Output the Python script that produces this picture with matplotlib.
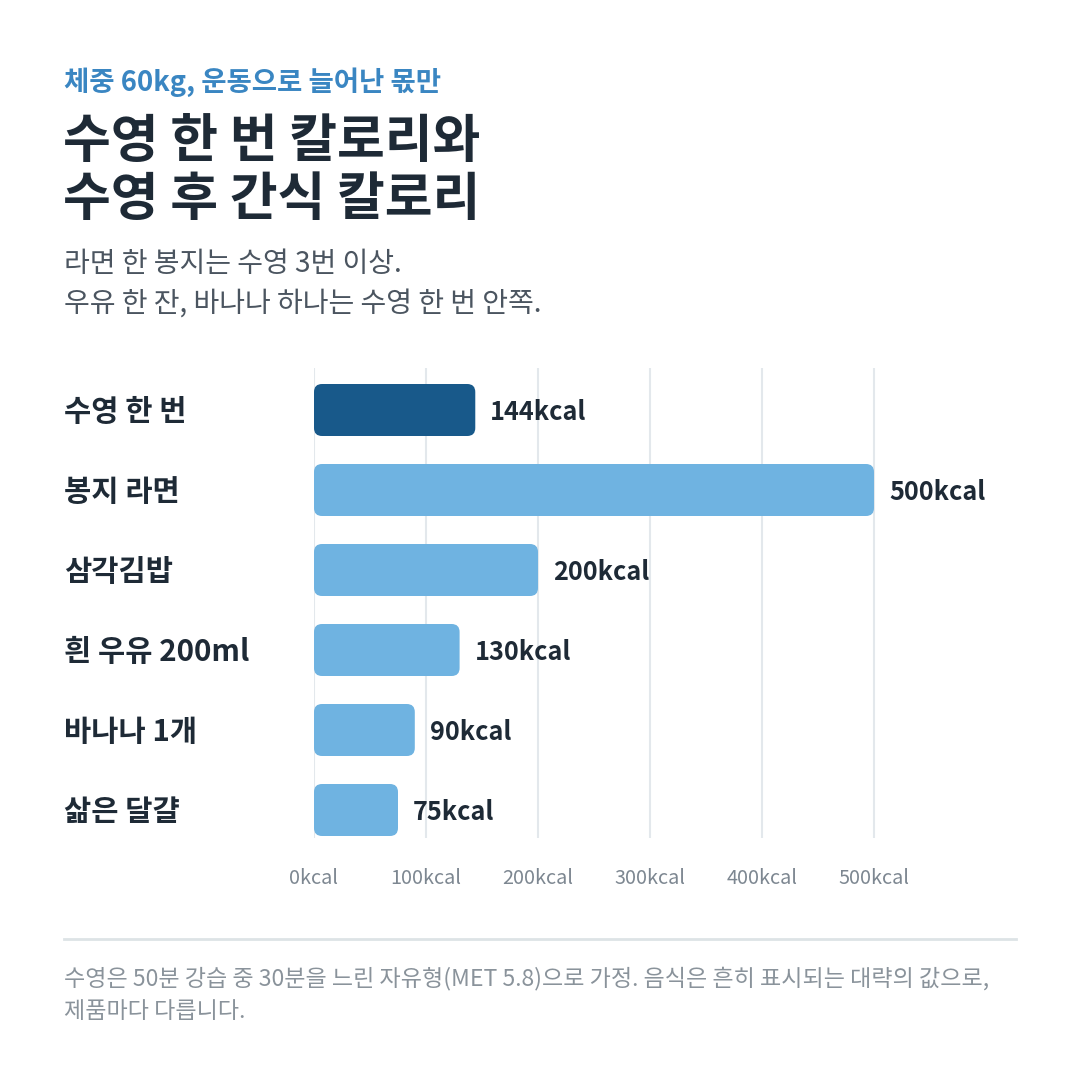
import matplotlib
matplotlib.use("Agg")
import matplotlib.pyplot as plt
from matplotlib.patches import FancyBboxPatch

plt.rcParams['font.family'] = ['Noto Sans CJK KR', 'DejaVu Sans']

# data
categories = ["수영 한 번", "봉지 라면", "삼각김밥", "흰 우유 200ml", "바나나 1개", "삶은 달걀"]
kcal = [144, 500, 200, 130, 90, 75]
ticks = [0, 100, 200, 300, 400, 500]
tick_labels = [f"{t}kcal" for t in ticks]

kicker = "체중 60kg, 운동으로 늘어난 몫만"
title_lines = ["수영 한 번 칼로리와", "수영 후 간식 칼로리"]
subtitle_lines = ["라면 한 봉지는 수영 3번 이상.", "우유 한 잔, 바나나 하나는 수영 한 번 안쪽."]
footer_lines = ["수영은 50분 강습 중 30분을 느린 자유형(MET 5.8)으로 가정. 음식은 흔히 표시되는 대략의 값으로,",
                "제품마다 다릅니다."]

DARK = "#18598a"
LIGHT = "#6fb3e1"
INK = "#1e2a36"

W, H = 1080, 1065
fig = plt.figure(figsize=(W / 100, H / 100), dpi=100)
fig.patch.set_facecolor("white")

def fx(px):
    return px / W

def fy(py):
    return 1 - py / H

# plot area in pixels
left, right, top, bottom = 314, 1016, 368, 838
ax = fig.add_axes([fx(left), fy(bottom), fx(right - left), (bottom - top) / H])
px_per_unit = 560 / 500
ax.set_xlim(0, (right - left) / px_per_unit)
n = len(categories)
ax.set_ylim(n - 1 + 28 / 80, -42 / 80)
for s in ax.spines.values():
    s.set_visible(False)
ax.set_xticks([])
ax.set_yticks([])

for t in ticks:
    ax.axvline(t, color="#e3e8ec", lw=1.5, zorder=0)

bar_h = 52 / 80
rx = 8 / px_per_unit
ry = 8 / 80
for i, (cat, v) in enumerate(zip(categories, kcal)):
    col = DARK if i == 0 else LIGHT
    p = FancyBboxPatch((0, i - bar_h / 2), v, bar_h,
                       boxstyle=f"round,pad=0,rounding_size={rx}",
                       mutation_aspect=ry / rx, fc=col, ec="none", zorder=2)
    ax.add_patch(p)
    ax.text(v + 15 / px_per_unit, i + 2 / 80, f"{v}kcal", ha="left", va="center",
            fontsize=18.2, fontweight="bold", color=INK)
    fig.text(fx(64), fy(412 + 80 * i), cat, ha="left", va="center",
             fontsize=21.3, fontweight="bold", color=INK)

for t, lab in zip(ticks, tick_labels):
    fig.text(fx(left + t * px_per_unit), fy(878), lab, ha="center", va="center",
             fontsize=14.3, color="#7d8791")

# header
fig.text(fx(64), fy(82), kicker, ha="left", va="center", fontsize=19.8,
         fontweight="bold", color="#3a86c2")
for j, line in enumerate(title_lines):
    fig.text(fx(63), fy(142 + 57 * j), line, ha="left", va="center", fontsize=37.4,
             fontweight="bold", color=INK)
for j, line in enumerate(subtitle_lines):
    fig.text(fx(64), fy(264 + 40 * j), line, ha="left", va="center", fontsize=20.2,
             color="#4b5560")

# footer
fig.add_artist(plt.Line2D([fx(64), fx(1016)], [fy(939), fy(939)],
                          color="#dde3e6", lw=2))
for j, line in enumerate(footer_lines):
    fig.text(fx(64), fy(978 + 34 * j), line, ha="left", va="center", fontsize=16.6,
             color="#8a939b")

fig.savefig("out.png", dpi=100)
